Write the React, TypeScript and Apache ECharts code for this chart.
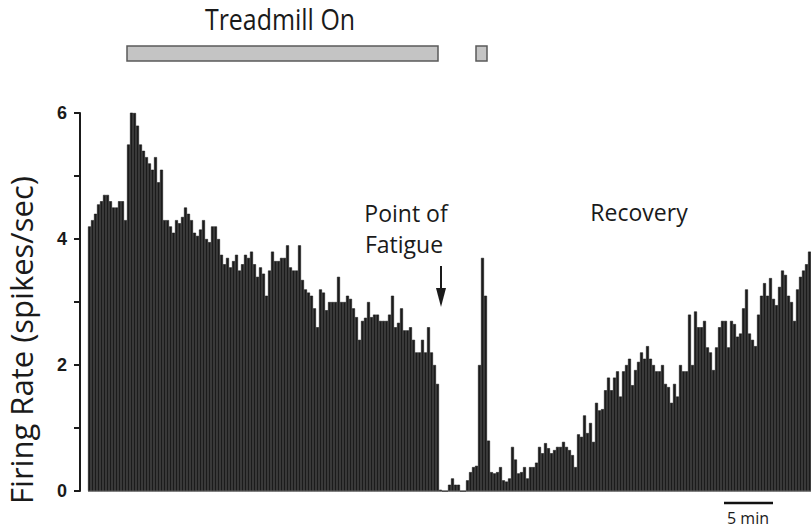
import React, { useEffect, useRef } from "react";
import * as echarts from "echarts";

// Firing rate (spikes/sec) per time bin (~18 s bins)
const firingRate: number[] = [
  4.2, 4.3, 4.4, 4.55, 4.6, 4.7, 4.7, 4.6, 4.5, 4.5,
  4.6, 4.6, 4.3, 5.5, 6.1, 6.0, 5.8, 5.5, 5.4, 5.3,
  5.2, 5.1, 5.3, 4.9, 5.1, 4.3, 4.3, 4.2, 4.1, 4.3,
  4.25, 4.35, 4.5, 4.4, 4.3, 4.1, 4.05, 4.15, 4.3, 4.0,
  3.95, 4.2, 4.2, 4.0, 3.75, 3.6, 3.7, 3.55, 3.65, 3.75,
  3.5, 3.6, 3.75, 3.7, 3.8, 3.6, 3.4, 3.55, 3.45, 3.1,
  3.5, 3.8, 3.65, 3.65, 3.7, 3.7, 3.9, 3.55, 3.5, 3.5,
  3.9, 3.35, 3.2, 3.15, 3.1, 2.9, 2.6, 3.2, 3.15, 2.87,
  3.0, 3.0, 3.0, 3.4, 3.0, 3.0, 3.1, 3.05, 2.9, 2.76,
  2.4, 2.7, 2.75, 3.0, 2.76, 2.8, 2.8, 2.7, 2.7, 2.7,
  2.8, 3.1, 2.6, 2.67, 2.9, 2.55, 2.55, 2.6, 2.4, 2.2,
  2.2, 2.4, 2.2, 2.6, 2.2, 2.0, 1.7, 0.02, 0, 0,
  0.1, 0.2, 0.1, 0.1, 0, 0, 0.17, 0.3, 0.38, 0.4,
  2.0, 3.7, 3.1, 0.8, 0.3, 0.28, 0.3, 0.38, 0.17, 0.15,
  0.2, 0.7, 0.5, 0.28, 0.3, 0.38, 0.2, 0.38, 0.38, 0.45,
  0.7, 0.6, 0.76, 0.68, 0.6, 0.65, 0.7, 0.7, 0.78, 0.7,
  0.65, 0.57, 0.38, 0.9, 0.86, 1.2, 0.92, 1.08, 0.78, 1.4,
  1.28, 1.3, 1.6, 1.8, 1.6, 1.8, 1.9, 1.5, 1.9, 2.0,
  2.1, 1.68, 1.92, 2.05, 2.2, 2.1, 2.3, 2.1, 2.0, 1.9,
  1.9, 2.0, 1.7, 1.65, 1.4, 1.7, 1.5, 2.0, 1.9, 1.9,
  2.8, 2.0, 2.85, 2.6, 2.6, 2.7, 2.28, 2.2, 1.92, 2.28,
  2.6, 2.7, 2.7, 2.28, 2.7, 2.65, 2.45, 2.5, 2.9, 3.2,
  2.5, 2.4, 2.3, 2.8, 3.1, 3.3, 3.1, 3.38, 3.05, 2.95,
  3.24, 3.5, 3.43, 3.1, 3.0, 2.7, 3.2, 3.4, 3.5, 3.6,
  3.8,
];

const yLabelTicks: number[] = [0, 2, 4, 6];

const FONT = "'Open Sans', 'Noto Sans', sans-serif";
const AXIS_X = 80;
const GRID_TOP = 113;
const GRID_BOTTOM = 37;
const HEIGHT = 528;
const Y_MAX = 6;
// gap between axis line and first bin, in bin units (8 px at 3 px per bin)
const X_MIN = -8 / 3;

export default function App() {
  const ref = useRef<HTMLDivElement>(null);

  useEffect(() => {
    if (!ref.current) return;
    const chart = echarts.init(ref.current, undefined, { renderer: "svg" });

    const plotH = HEIGHT - GRID_TOP - GRID_BOTTOM;
    const yPix = (v: number): number => GRID_TOP + ((Y_MAX - v) / Y_MAX) * plotH;

    const txt = (text: string, x: number, y: number, size: number, extra: any = {}) => ({
      type: "text",
      x,
      y,
      ...extra,
      style: {
        text,
        fontFamily: FONT,
        fontSize: size,
        fill: "#1a1a1a",
        textAlign: "center",
        textVerticalAlign: "middle",
      },
    });

    const barData = firingRate.map((v, i) => [i + 0.5, v]);

    chart.setOption({
      animation: false,
      backgroundColor: "#ffffff",
      grid: { left: AXIS_X, right: 0, top: GRID_TOP, bottom: GRID_BOTTOM },
      xAxis: {
        type: "value",
        min: X_MIN,
        max: firingRate.length,
        show: false,
      },
      yAxis: {
        type: "value",
        min: 0,
        max: Y_MAX,
        interval: 1,
        axisLine: { show: true, onZero: false, lineStyle: { color: "#1a1a1a", width: 2 } },
        axisTick: { show: true, inside: false, length: 6, lineStyle: { color: "#1a1a1a", width: 2 } },
        axisLabel: {
          show: true,
          margin: 13,
          fontFamily: "'Liberation Sans', Arial, sans-serif",
          fontWeight: "bold",
          fontSize: 18,
          color: "#1a1a1a",
          formatter: (v: number) => (yLabelTicks.indexOf(v) >= 0 ? String(v) : ""),
        },
        splitLine: { show: false },
      },
      series: [
        {
          type: "bar",
          data: barData,
          barWidth: 3,
          itemStyle: { color: "#1b1b1b", borderColor: "#1b1b1b", borderWidth: 0.6 },
          emphasis: { disabled: true },
          markLine: {
            silent: true,
            symbol: "none",
            label: { show: false },
            lineStyle: { type: "solid", color: "#1a1a1a", width: 2 },
            data: [{ xAxis: X_MIN }],
          },
        },
      ],
      graphic: [
        {
          type: "line",
          shape: { x1: 88, y1: yPix(0) + 0.5, x2: 811, y2: yPix(0) + 0.5 },
          style: { stroke: "#8a8a8a", lineWidth: 1 },
        },
        txt("Treadmill On", 280, 19, 29, { scaleX: 0.86 }),
        txt("Firing Rate (spikes/sec)", 21, 340, 31, { rotation: Math.PI / 2 }),
        {
          type: "rect",
          shape: { x: 127, y: 46, width: 311, height: 15 },
          style: { fill: "#c4c4c4", stroke: "#5a5a5a", lineWidth: 1.5 },
        },
        {
          type: "rect",
          shape: { x: 476, y: 46, width: 11, height: 15 },
          style: { fill: "#c4c4c4", stroke: "#5a5a5a", lineWidth: 1.5 },
        },
        txt("Point of", 406, 213, 23),
        txt("Fatigue", 404, 244, 23),
        {
          type: "line",
          shape: { x1: 441, y1: 266, x2: 441, y2: 292 },
          style: { stroke: "#1a1a1a", lineWidth: 2 },
        },
        {
          type: "polygon",
          shape: { points: [[436, 288], [446, 288], [441, 307]] },
          style: { fill: "#1a1a1a" },
        },
        txt("Recovery", 639, 212, 23),
        {
          type: "line",
          shape: { x1: 724, y1: 503, x2: 773, y2: 503 },
          style: { stroke: "#111", lineWidth: 2.5 },
        },
        txt("5 min", 748, 518, 16),
      ],
    });

    return () => chart.dispose();
  }, []);

  return (
    <div
      ref={ref}
      style={{ width: 811, height: 528, position: "absolute", left: 0, top: 0 }}
    />
  );
}
